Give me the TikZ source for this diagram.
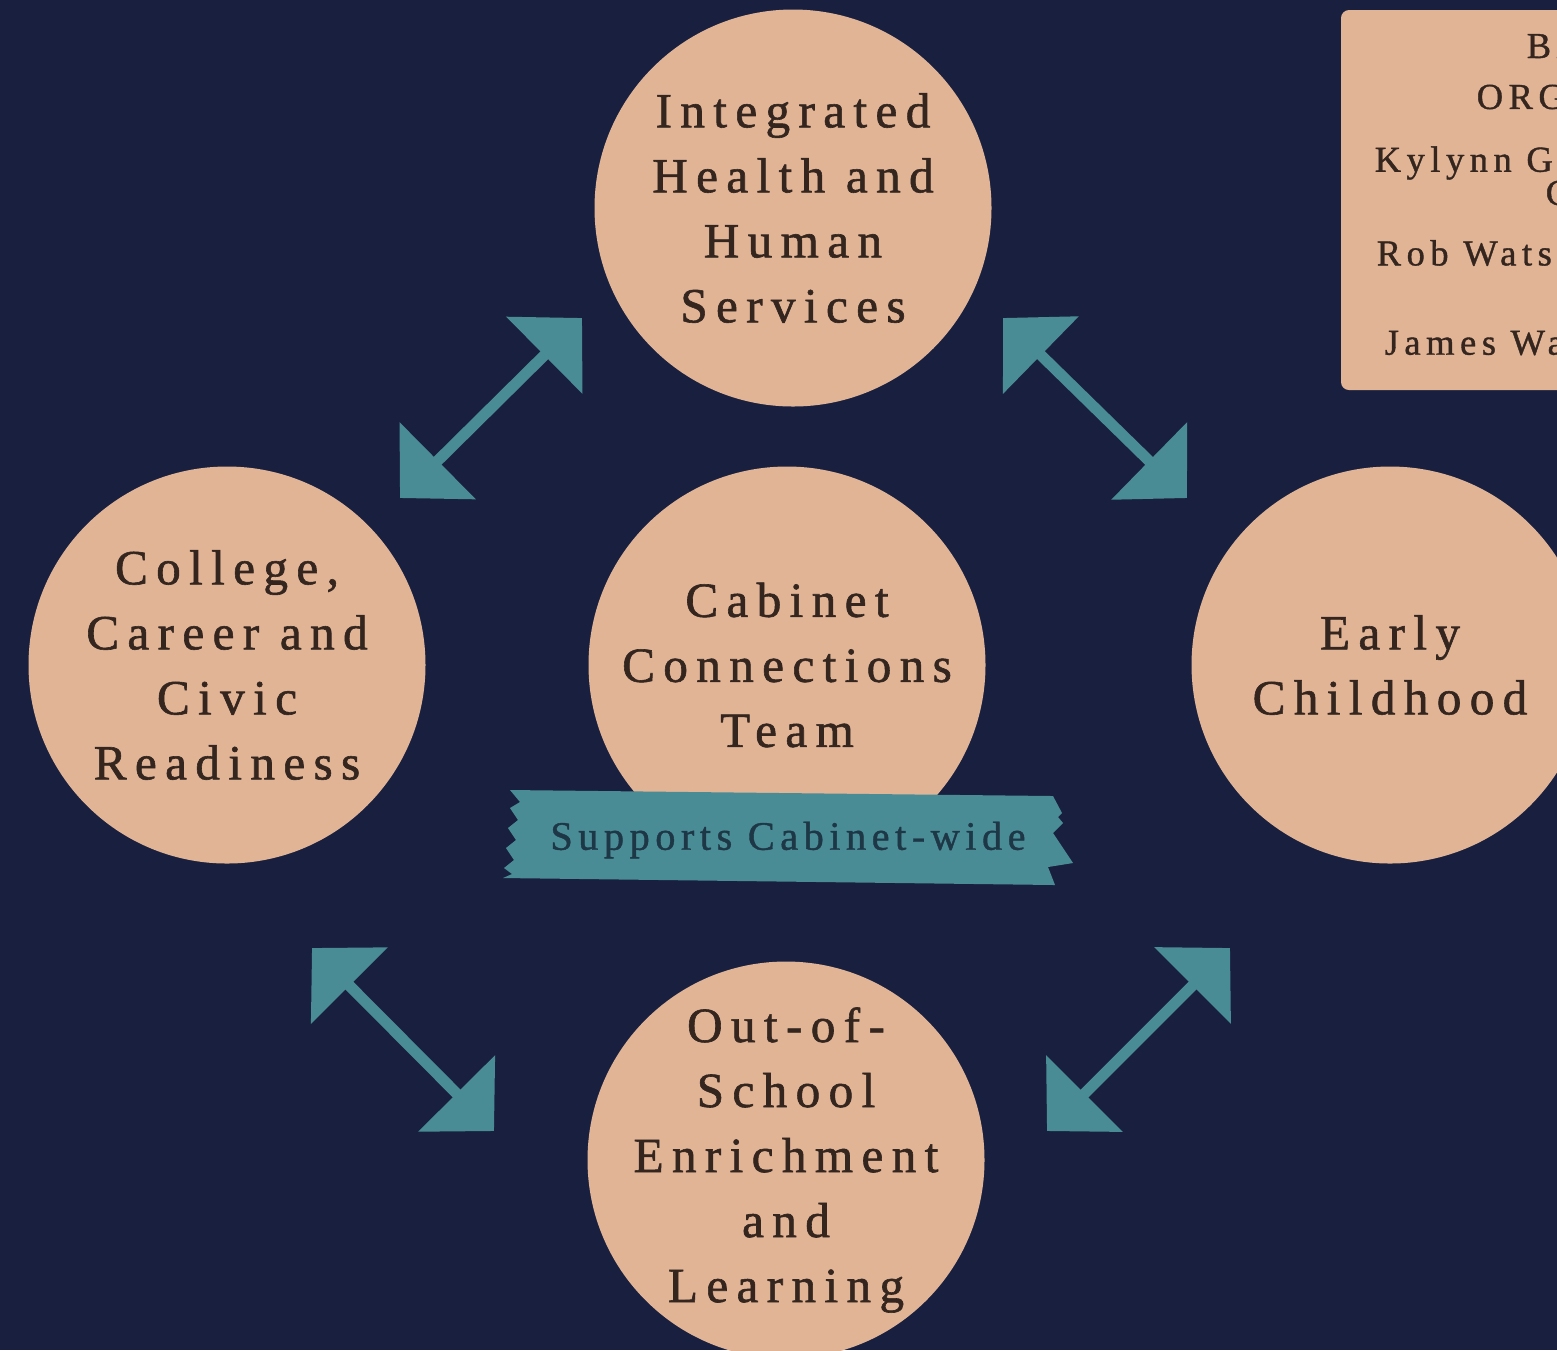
\documentclass[tikz,border=0pt]{standalone}
\usepackage{fontspec}
\setmainfont{Liberation Serif}
\newfontfamily\hubfam[LetterSpace=17,FakeBold=1.2]{Liberation Serif}
\newfontfamily\tapefam[LetterSpace=13.5,FakeBold=1]{Liberation Serif}
\newfontfamily\notefam[LetterSpace=15,FakeBold=1]{Liberation Serif}
\usetikzlibrary{arrows.meta}
\definecolor{navy}{HTML}{19203F}
\definecolor{peach}{HTML}{E1B496}
\definecolor{teal}{HTML}{4A8C96}
\definecolor{ink}{HTML}{34261F}
\definecolor{tapeink}{HTML}{1D3746}
\tikzset{hub/.style={circle,fill=peach,minimum size=3.97cm,inner sep=-0.6cm,align=center,text=ink,
    font=\hubfam\fontsize{14}{18.5}\selectfont}}
\tikzset{link/.style={teal,line width=0.11cm,
    {Triangle[length=0.53cm,width=1.06cm]}-{Triangle[length=0.53cm,width=1.06cm]}}}
\tikzset{note/.style={anchor=west,inner sep=0pt,text=ink,font=\notefam\fontsize{10.4}{12}\selectfont}}

\begin{document}
\begin{tikzpicture}
  \useasboundingbox (0,0) rectangle (15.57,-13.5);
  \fill[navy] (0,0) rectangle (15.57,-13.5);
  \clip (0,0) rectangle (15.57,-13.5);

  % circles
  \node[hub] (IH) at (7.93,-2.08) {Integrated\\Health and\\Human\\Services};
  \node[hub] (CC) at (7.87,-6.65) {Cabinet\\Connections\\Team};
  \node[hub] (CR) at (2.27,-6.65) {College,\\Career and\\Civic\\Readiness};
  \node[hub] (EC) at (13.90,-6.65) {Early\\Childhood};
  \node[hub] (OS) at (7.86,-11.60) {Out-of-\\School\\Enrichment\\and\\Learning};

  % torn tape under the team
  \fill[teal] (5.10,-7.90) -- (10.53,-7.96) -- (10.62,-8.13) -- (10.58,-8.17) -- (10.63,-8.23)
    -- (10.53,-8.33) -- (10.73,-8.63) -- (10.48,-8.67) -- (10.55,-8.85) -- (5.03,-8.78)
    -- (5.12,-8.74) -- (5.04,-8.68) -- (5.14,-8.60) -- (5.06,-8.48) -- (5.16,-8.40)
    -- (5.08,-8.28) -- (5.18,-8.20) -- (5.10,-8.08) -- (5.20,-8.02) -- cycle;
  \node[text=tapeink,font=\tapefam\fontsize{11.5}{13}\selectfont] (SC) at (7.88,-8.40) {Supports Cabinet-wide};

  % arrows
  \coordinate (tl1) at (4.00,-4.98);
  \coordinate (tl2) at (5.82,-3.18);
  \coordinate (tr1) at (10.03,-3.18);
  \coordinate (tr2) at (11.87,-4.98);
  \coordinate (bl1) at (3.12,-9.48);
  \coordinate (bl2) at (4.94,-11.31);
  \coordinate (br1) at (10.47,-11.31);
  \coordinate (br2) at (12.30,-9.48);
  \draw[link] (tl1) -- (tl2);
  \draw[link] (tr1) -- (tr2);
  \draw[link] (bl1) -- (bl2);
  \draw[link] (br1) -- (br2);

  % backbone box, cut off at the edge
  \fill[peach,rounded corners=0.08cm] (13.41,-0.10) rectangle (15.80,-3.90);
  \node[note] (BA) at (15.26,-0.46) {BA};
  \node[note] (OR) at (14.76,-0.97) {ORG};
  \node[note] (KG) at (13.74,-1.63) {Kylynn G};
  \node[note] (KC) at (15.45,-1.93) {C};
  \node[note] (RW) at (13.76,-2.53) {Rob Wats};
  \node[note] (JW) at (13.84,-3.43) {James Wa};
\end{tikzpicture}
\end{document}
